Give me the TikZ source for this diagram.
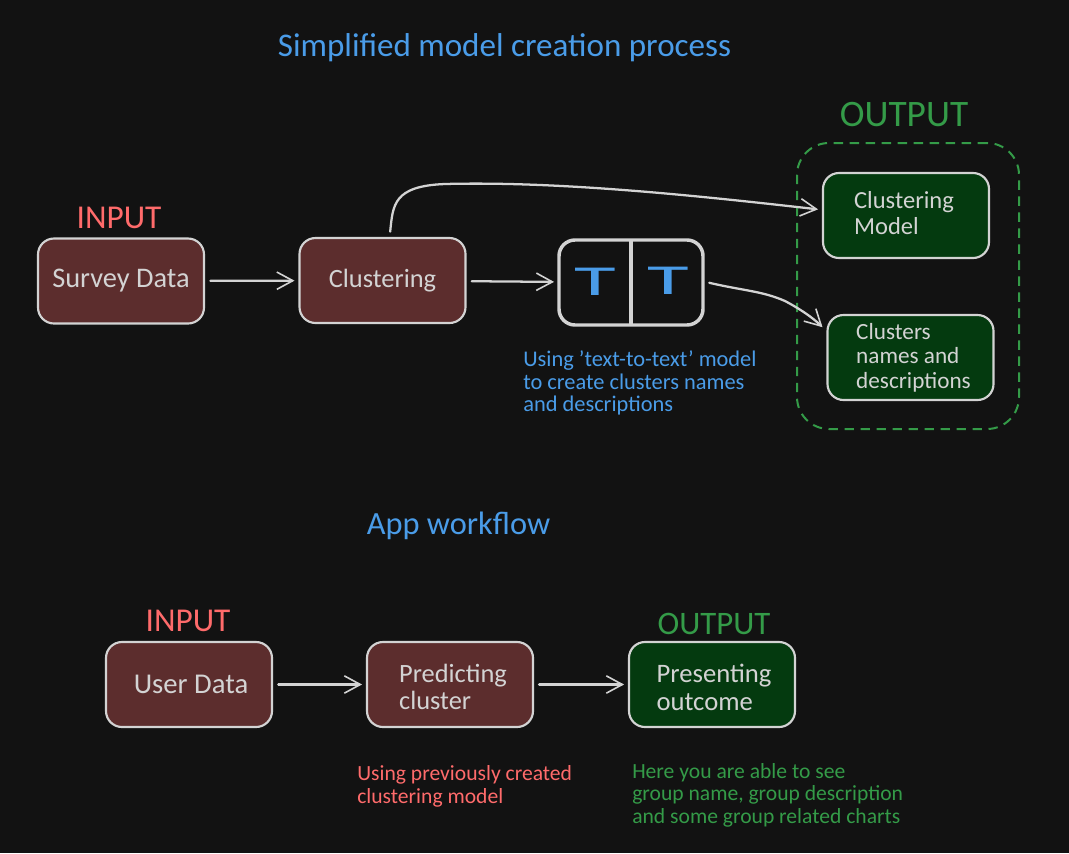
\documentclass[tikz,border=0pt]{standalone}
\usepackage{fontspec}
\setmainfont{Carlito}
\usetikzlibrary{arrows.meta}
\definecolor{bgc}{HTML}{121212}
\definecolor{maroon}{HTML}{5C2D2D}
\definecolor{forest}{HTML}{043A0F}
\definecolor{strokec}{HTML}{D3D3D3}
\definecolor{bluec}{HTML}{4A9CE8}
\definecolor{redc}{HTML}{FF6B6B}
\definecolor{greenc}{HTML}{349B48}
\newcommand{\fs}[2]{\fontsize{#1}{#2}\selectfont}
\tikzset{
  x=0.75pt,y=-0.75pt,
  boxbase/.style={draw=strokec,line width=1.6pt,rounded corners=12pt,minimum width=124.5pt,minimum height=63.75pt,
    inner sep=0pt,outer sep=3.75pt,text=strokec,align=left},
  inbox/.style={boxbase,fill=maroon},
  outbox/.style={boxbase,fill=forest},
  boxtext/.style={inner sep=0pt,text=strokec,align=left},
  modelbox/.style={draw=strokec,line width=2.6pt,rounded corners=12pt,minimum width=108pt,minimum height=63.75pt,inner sep=0pt,outer sep=3.75pt},
  groupbox/.style={draw=greenc,line width=1.5pt,dash pattern=on 7pt off 5pt,rounded corners=24pt,minimum width=166.5pt,minimum height=214.5pt,inner sep=0pt},
  flow/.style={draw=strokec,line width=1.7pt,line cap=round,shorten <=1pt,-{Straight Barb[length=12pt,width=13pt,line width=1.2pt]}},
  title/.style={text=bluec,inner sep=0pt},
  inlabel/.style={text=redc,inner sep=0pt,font=\fs{25}{28}},
  outlabel/.style={text=greenc,inner sep=0pt},
  note/.style={inner sep=0pt,anchor=west,align=left},
  bigt/.style={text=bluec,inner sep=0pt,font=\fs{32}{32}},
}
\begin{document}
\begin{tikzpicture}
\useasboundingbox[fill=bgc] (0,0) rectangle (1069,853);
\node[title,font=\fs{24.8}{28}] (t1) at (504.5,47.5) {Simplified model creation process};
\node[title,font=\fs{24.3}{28}] (t2) at (458.5,525.5) {App workflow};
% top row
\node[inlabel] (in1) at (119,218) {INPUT};
\node[inbox,font=\fs{21.3}{24}] (survey) at (121,281) {Survey Data};
\node[inbox,font=\fs{19.8}{24}] (clustering) at (382.5,280.5) {Clustering};
\node[modelbox] (tbox) at (631,282.5) {};
\draw[strokec,line width=2.6pt,shorten <=3.75pt,shorten >=3.75pt] (tbox.north) -- (tbox.south);
\node[bigt] (t3) at (595,282) {\scalebox{2}[1]{T}};
\node[bigt] (t4) at (668,281) {\scalebox{2}[1]{T}};
\node[note,text=bluec,font=\fs{16.8}{16.9}] (n1) at (523,383) {Using 'text-to-text' model\\to create clusters names\\and descriptions};
% output group
\node[groupbox] (group) at (908,286) {};
\node[outlabel,font=\fs{28}{30}] (out1) at (904,115) {OUTPUT};
\node[outbox] (cm) at (906,215.5) {};
\node[boxtext,font=\fs{18.4}{19.5}] (cmtext) at (904,213.5) {Clustering\\Model};
\node[outbox] (cn) at (910.5,357.5) {};
\node[boxtext,font=\fs{17.4}{18.4}] (cntext) at (913.5,357.5) {Clusters\\names and\\descriptions};
% connectors top
\coordinate (bendA) at (445,184);
\coordinate (bendB) at (785,301);
\draw[flow] (survey) -- (clustering);
\draw[flow] (clustering) -- (tbox);
\draw[flow] (clustering.81) .. controls (393,205) and (393,186) .. (bendA) .. controls (560,181) and (700,196) .. (cm.176);
\draw[flow] (tbox.east) .. controls (745,291) and (762,291) .. (bendB) .. controls (800,309) and (812,317) .. (cn.161);
% bottom row
\node[inlabel] (in2) at (188,621) {INPUT};
\node[outlabel,font=\fs{24.6}{28}] (out2) at (714,624) {OUTPUT};
\node[inbox] (user) at (189,684.5) {};
\node[boxtext,font=\fs{21.5}{24}] (usertext) at (191,684.5) {User Data};
\node[inbox] (pred) at (450,684.5) {};
\node[boxtext,font=\fs{19.8}{20.3}] (predtext) at (453,686.5) {Predicting\\cluster};
\node[outbox] (pres) at (712,684.5) {};
\node[boxtext,font=\fs{20}{21}] (prestext) at (714,687.5) {Presenting\\outcome};
\draw[flow] (user) -- (pred);
\draw[flow,line width=2.2pt] (pred) -- (pres);
\node[note,text=redc,font=\fs{16.2}{17.2}] (n2) at (357,786) {Using previously created\\clustering model};
\node[note,text=greenc,font=\fs{16.2}{16.9}] (n3) at (632,795) {Here you are able to see\\group name, group description\\and some group related charts};
\end{tikzpicture}
\end{document}
